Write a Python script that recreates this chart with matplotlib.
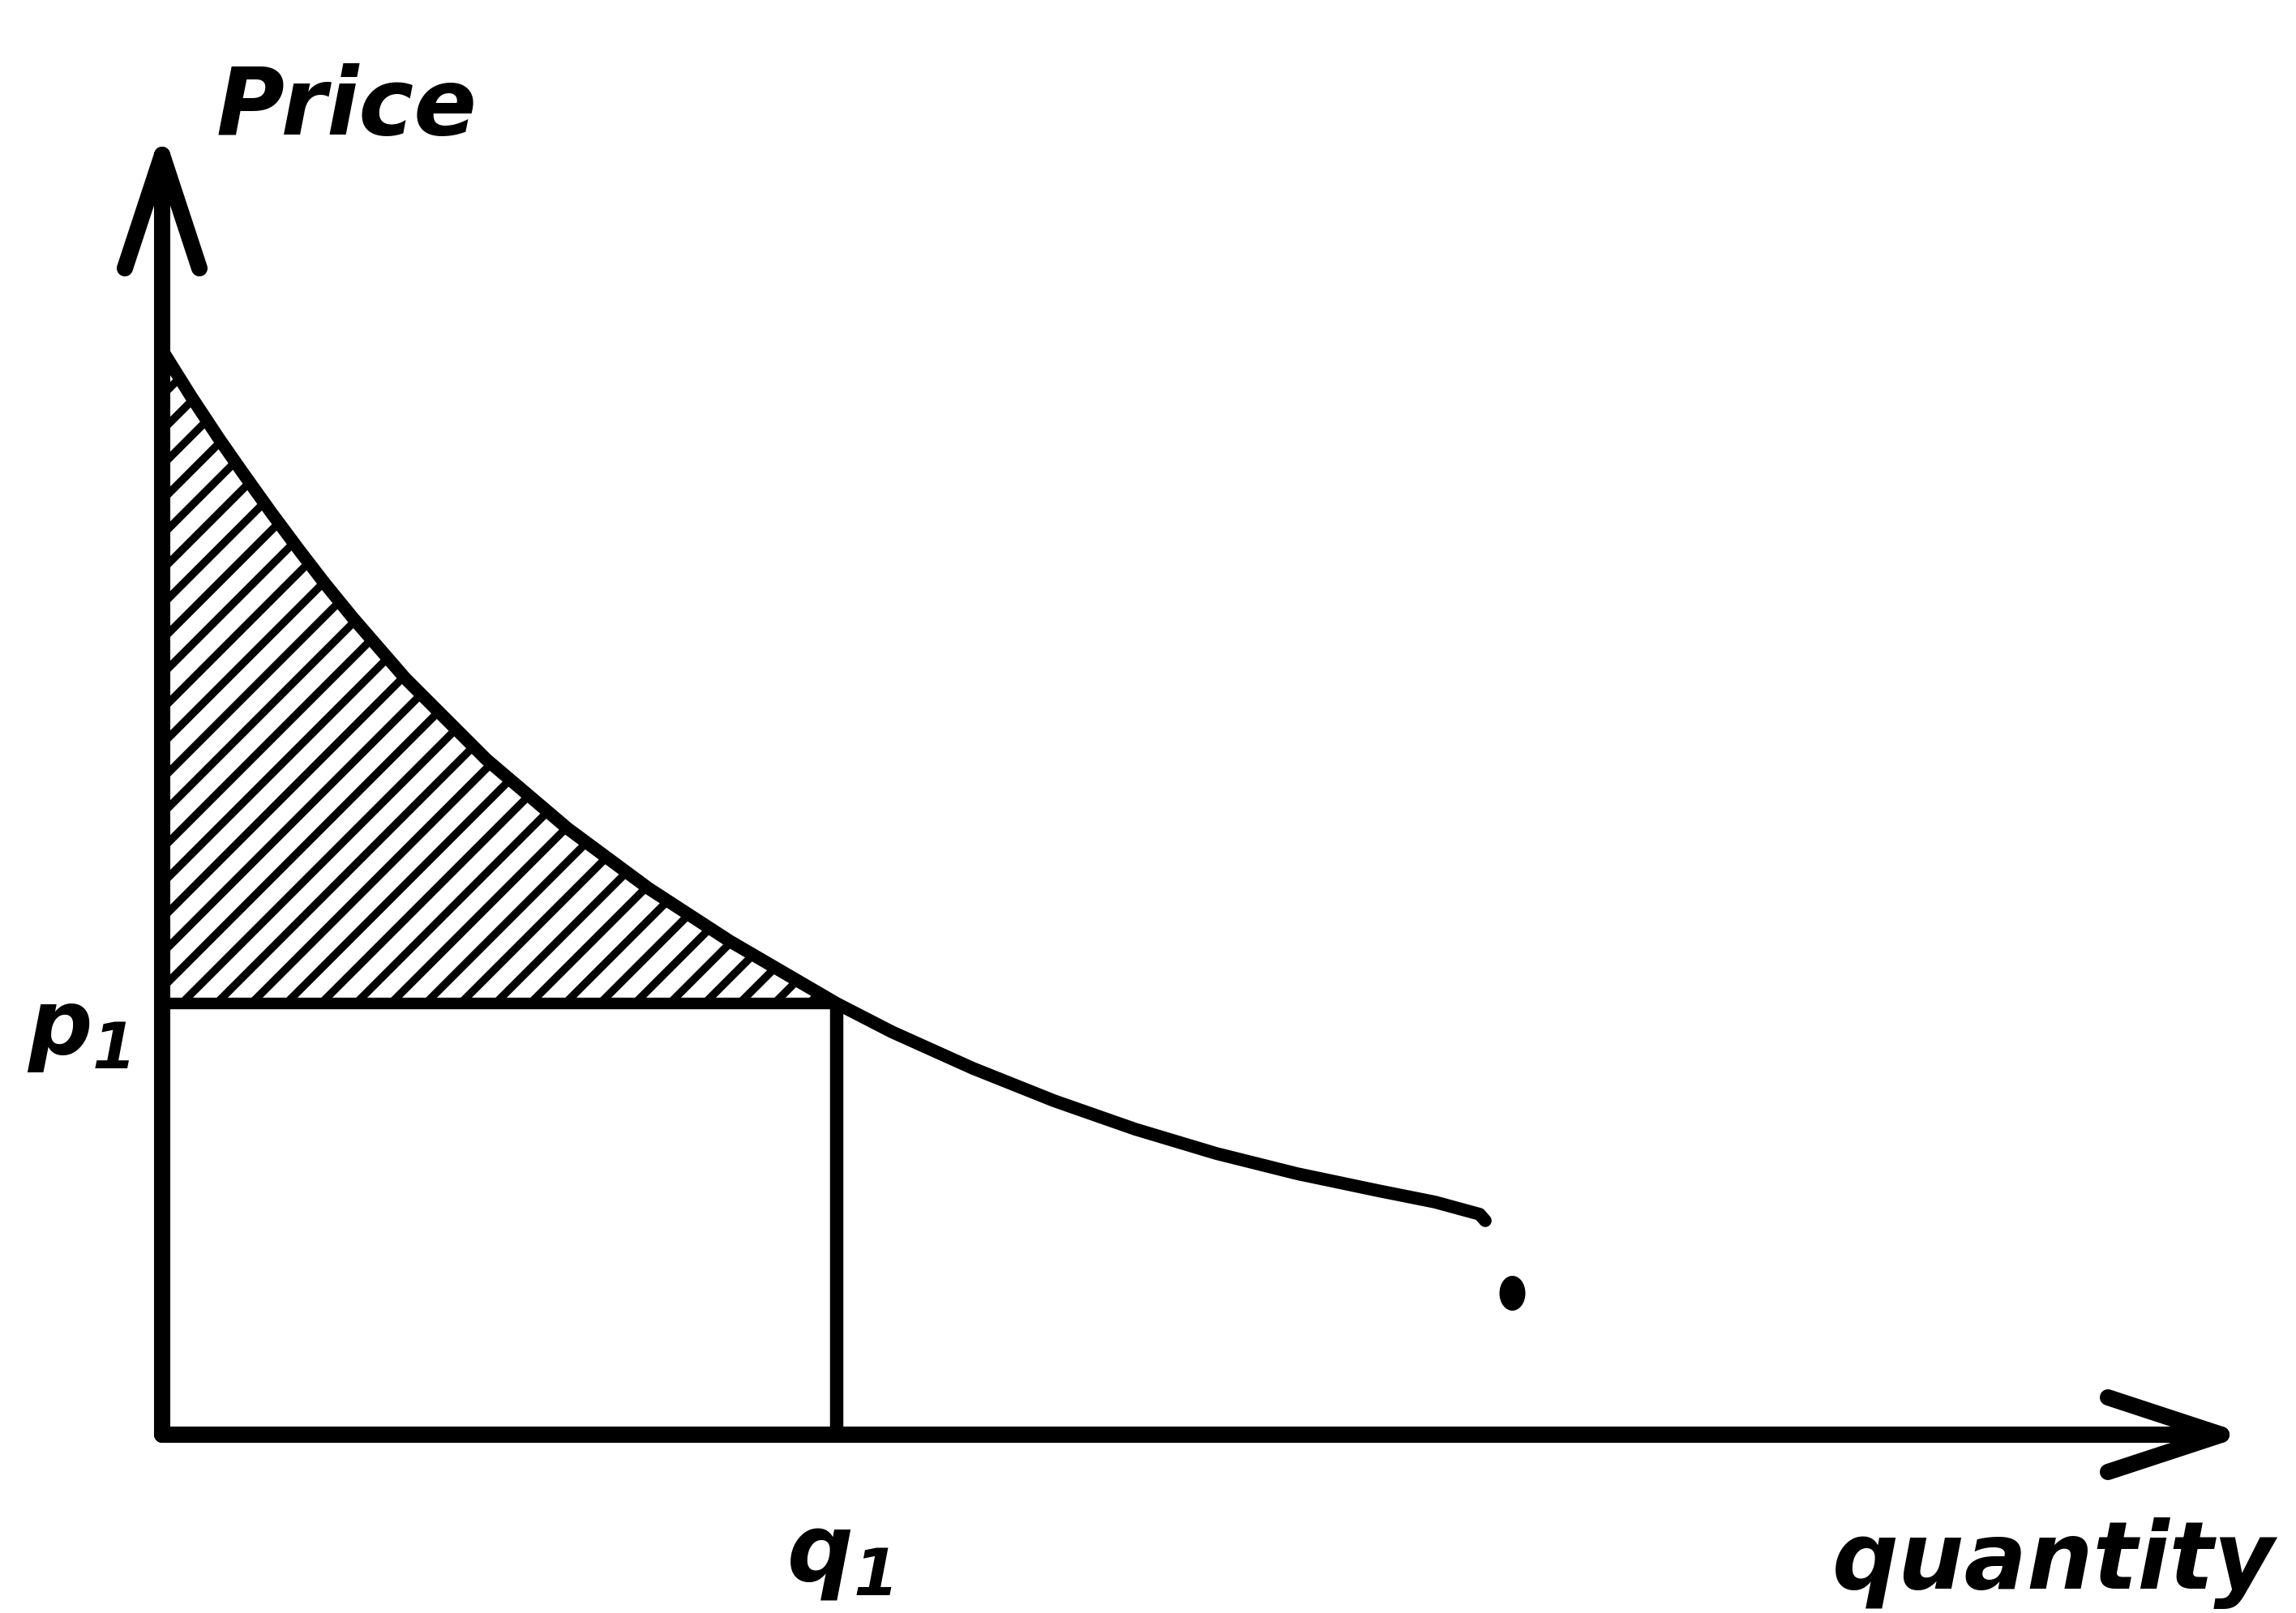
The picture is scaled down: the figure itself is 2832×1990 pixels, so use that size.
import numpy as np
import matplotlib
matplotlib.use("Agg")
import matplotlib.pyplot as plt
from matplotlib.path import Path
from matplotlib.transforms import Affine2D

# ---------------- data (diagram units) ----------------
demand_q = [0.00, 0.35, 0.70, 1.00, 1.35, 1.70, 2.00, 2.35, 3.00, 4.00, 5.00,
            6.00, 7.00, 8.32, 9.00, 10.00, 11.00, 12.00, 13.00, 14.00, 15.00,
            15.70, 16.25, 16.32]
demand_p = [13.38, 12.82, 12.29, 11.86, 11.37, 10.90, 10.51, 10.08, 9.33, 8.33, 7.48,
            6.74, 6.09, 5.32, 4.97, 4.52, 4.12, 3.77, 3.47, 3.22, 3.01,
            2.87, 2.72, 2.64]
q1 = 8.32
p1 = 5.32
dot_q = [16.65]
dot_p = [1.75]
x_axis_end = 25.40
y_axis_end = 15.79
labels = {"y": "Price", "x": "quantity", "p1": r"$p_1$", "q1": r"$q_1$"}

# ---------------- style ----------------
DPI = 258
plt.rcParams['hatch.linewidth'] = 2.7
plt.rcParams['mathtext.fontset'] = 'custom'
plt.rcParams['mathtext.it'] = 'DejaVu Sans:italic:bold'
plt.rcParams['mathtext.rm'] = 'DejaVu Sans:italic:bold'
plt.rcParams['mathtext.bf'] = 'DejaVu Sans:italic:bold'

fig = plt.figure(figsize=(2832 / DPI, 1990 / DPI), dpi=DPI)
ax = fig.add_axes([0, 0, 1, 1])
ax.set_xlim(-2.00, 26.32)
ax.set_ylim(-2.20, 17.70)
ax.axis('off')

dq = np.array(demand_q)
dp = np.array(demand_p)

# hatched consumer-surplus area
mask = dq <= q1 + 1e-9
ax.fill_between(dq[mask], dp[mask], p1, facecolor='none', edgecolor='black',
                hatch='//', linewidth=0, zorder=1)

# expenditure rectangle
ax.plot([0, q1], [p1, p1], color='black', lw=4.0, solid_capstyle='butt', zorder=2)
ax.plot([q1, q1], [0, p1], color='black', lw=4.6, solid_capstyle='butt', zorder=2)

# demand curve
ax.plot(dq, dp, color='black', lw=4.4, solid_capstyle='round',
        solid_joinstyle='round', zorder=3)

# isolated dot (slightly elongated)
ell = Path.unit_circle().transformed(Affine2D().scale(0.72, 1.0))
ax.plot(dot_q, dot_p, marker=ell, linestyle='none', color='black',
        markersize=11, zorder=3)

# axes with open arrow heads
axis_lw = 5.6
ax.plot([0, 0], [0, y_axis_end], color='black', lw=axis_lw, solid_capstyle='round', zorder=4)
ax.plot([0, x_axis_end], [0, 0], color='black', lw=axis_lw, solid_capstyle='round', zorder=4)
barb_len, barb_w = 1.40, 0.46
ax.plot([-barb_w, 0, barb_w], [y_axis_end - barb_len, y_axis_end, y_axis_end - barb_len],
        color='black', lw=axis_lw, solid_capstyle='round', solid_joinstyle='round', zorder=4)
ax.plot([x_axis_end - barb_len, x_axis_end, x_axis_end - barb_len], [barb_w, 0, -barb_w],
        color='black', lw=axis_lw, solid_capstyle='round', solid_joinstyle='round', zorder=4)

# labels
tfont = dict(family='DejaVu Sans', style='italic', weight='bold', color='black')
ax.text(0.67, 16.04, labels["y"], fontsize=32, ha='left', va='baseline', **tfont)
ax.text(20.60, -1.90, labels["x"], fontsize=32, ha='left', va='baseline', **tfont)
ax.text(-1.67, 4.70, labels["p1"], fontsize=31, ha='left', va='baseline', **tfont)
ax.text(7.70, -1.80, labels["q1"], fontsize=32, ha='left', va='baseline', **tfont)

fig.savefig("out.png", dpi=DPI, facecolor='white')
